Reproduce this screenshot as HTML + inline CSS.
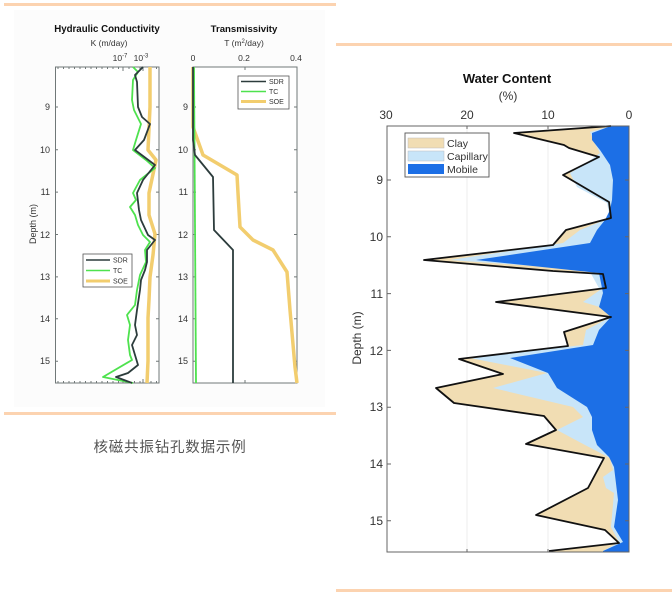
<!DOCTYPE html>
<html><head><meta charset="utf-8"><style>
html,body{margin:0;padding:0;background:#fff;}
svg{display:block;}
text{font-family:"Liberation Sans","Noto Sans CJK SC",sans-serif;}
</style></head><body>
<svg width="672" height="597" viewBox="0 0 672 597" xmlns="http://www.w3.org/2000/svg">
<rect x="0" y="0" width="672" height="597" fill="#fff"/>
<!-- peach separator lines -->
<rect x="4" y="3" width="332" height="3" fill="#fcd3b0"/>
<rect x="4" y="412" width="332" height="3" fill="#fcd3b0"/>
<rect x="336" y="43" width="336" height="3" fill="#fcd3b0"/>
<rect x="336" y="589" width="336" height="3" fill="#fcd3b0"/>
<rect x="14" y="10" width="311" height="397" fill="#fcfcfc"/>

<!-- ===== Chart 1: Hydraulic Conductivity ===== -->
<text x="107" y="32" font-size="9.7" font-weight="bold" text-anchor="middle" fill="#111">Hydraulic Conductivity</text>
<text x="109" y="46" font-size="8.5" text-anchor="middle" fill="#333">K (m/day)</text>
<text x="120" y="61" font-size="8.5" text-anchor="middle" fill="#333">10<tspan dy="-3.5" font-size="6">-7</tspan></text>
<text x="141" y="61" font-size="8.5" text-anchor="middle" fill="#333">10<tspan dy="-3.5" font-size="6">-3</tspan></text>
<rect x="55.5" y="67" width="103.5" height="316" fill="#fff" stroke="#707878" stroke-width="1"/>
<g stroke="#707878" stroke-width="1">
<path d="M58 67v2M63.5 67v2M69 67v2M74.5 67v2M80 67v2M85.5 67v2M91 67v2M96.5 67v2M102 67v2M107.5 67v2M113 67v2M118.5 67v2M123 67v4M129 67v2M134.5 67v2M140 67v2M143 67v4M151 67v2M156.5 67v2"/>
<path d="M58 383v-2M63.5 383v-2M69 383v-2M74.5 383v-2M80 383v-2M85.5 383v-2M91 383v-2M96.5 383v-2M102 383v-2M107.5 383v-2M113 383v-2M118.5 383v-2M123 383v-4M129 383v-2M134.5 383v-2M140 383v-2M143 383v-4M151 383v-2M156.5 383v-2"/>
<path d="M55 107h3M55 149.7h3M55 192.1h3M55 234.5h3M55 276.9h3M55 318.8h3M55 361.2h3"/>
<path d="M159 107h-3M159 149.7h-3M159 192.1h-3M159 234.5h-3M159 276.9h-3M159 318.8h-3M159 361.2h-3"/>
</g>
<g font-size="9" fill="#333" text-anchor="end">
<text x="50" y="110">9</text><text x="50" y="153">10</text><text x="50" y="195">11</text><text x="50" y="238">12</text><text x="50" y="280">13</text><text x="50" y="322">14</text><text x="50" y="364">15</text>
</g>
<text transform="translate(36,224) rotate(-90)" font-size="9" text-anchor="middle" fill="#333">Depth (m)</text>
<polyline fill="none" stroke="#f2cd6e" stroke-width="3.5" stroke-linejoin="round" points="150,67 150,107 148,150 156,160 149,193 149,215 155,234 153,255 150,277 149,300 148,318 148,361 147,383"/>
<polyline fill="none" stroke="#4ee24e" stroke-width="1.8" stroke-linejoin="round" points="133,67 138,72 133,80 132,100 134,110 141,124 136,140 133,150 146,160 155,168 140,180 133,193 136,200 130,207 135,215 138,225 143,235 150,242 145,250 146,262 140,275 137,290 135,305 127,315 130,325 128,340 130,355 132,360 103,377 133,383"/>
<polyline fill="none" stroke="#2c3c3c" stroke-width="1.8" stroke-linejoin="round" points="143,67 135,75 137,82 138,107 142,117 150,124 144,140 135,150 155,165 143,180 137,193 139,210 141,220 148,235 155,240 147,250 147,262 145,270 141,280 140,290 137,310 135,325 137,335 132,345 138,365 128,373 116,377 132,383"/>
<!-- legend 1 -->
<rect x="83" y="254" width="49" height="33" fill="#fff" stroke="#555" stroke-width="0.8"/>
<line x1="86" y1="260" x2="110" y2="260" stroke="#2c3c3c" stroke-width="1.6"/>
<line x1="86" y1="270.5" x2="110" y2="270.5" stroke="#4ee24e" stroke-width="1.6"/>
<line x1="86" y1="281" x2="110" y2="281" stroke="#f2cd6e" stroke-width="3"/>
<g font-size="7" fill="#333"><text x="113" y="262.5">SDR</text><text x="113" y="273">TC</text><text x="113" y="283.5">SOE</text></g>

<!-- ===== Chart 2: Transmissivity ===== -->
<text x="244" y="32" font-size="9.6" font-weight="bold" text-anchor="middle" fill="#111">Transmissivity</text>
<text x="244" y="46" font-size="8.5" text-anchor="middle" fill="#333">T (m<tspan dy="-3" font-size="6">2</tspan><tspan dy="3">/day)</tspan></text>
<g font-size="8.5" fill="#333" text-anchor="middle">
<text x="193" y="61">0</text><text x="244" y="61">0.2</text><text x="296" y="61">0.4</text>
</g>
<rect x="193" y="67" width="104" height="316" fill="#fff" stroke="#707878" stroke-width="1"/>
<g stroke="#707878" stroke-width="1">
<path d="M245 67v3M245 383v-3"/>
<path d="M193 107h3M193 149.7h3M193 192.1h3M193 234.5h3M193 276.9h3M193 318.8h3M193 361.2h3"/>
<path d="M297 107h-3M297 149.7h-3M297 192.1h-3M297 234.5h-3M297 276.9h-3M297 318.8h-3M297 361.2h-3"/>
</g>
<g font-size="9" fill="#333" text-anchor="end">
<text x="188" y="110">9</text><text x="188" y="153">10</text><text x="188" y="195">11</text><text x="188" y="238">12</text><text x="188" y="280">13</text><text x="188" y="322">14</text><text x="188" y="364">15</text>
</g>
<polyline fill="none" stroke="#f2cd6e" stroke-width="3.5" stroke-linejoin="round" points="193,67 193,127 203,155 237,175 238,193 240,227 253,240 273,250 287,272 290,310 295,367 297,383"/>
<polyline fill="none" stroke="#4ee24e" stroke-width="1.8" points="194,67 196,383"/>
<polyline fill="none" stroke="#2c3c3c" stroke-width="1.8" stroke-linejoin="round" points="193,67 193,140 195,155 213,177 214,230 233,250 233,383"/>
<!-- legend 2 -->
<rect x="238" y="76" width="51" height="33" fill="#fff" stroke="#555" stroke-width="0.8"/>
<line x1="241" y1="81.5" x2="266" y2="81.5" stroke="#2c3c3c" stroke-width="1.6"/>
<line x1="241" y1="91.5" x2="266" y2="91.5" stroke="#4ee24e" stroke-width="1.6"/>
<line x1="241" y1="101.5" x2="266" y2="101.5" stroke="#f2cd6e" stroke-width="3"/>
<g font-size="7" fill="#333"><text x="269" y="84">SDR</text><text x="269" y="94">TC</text><text x="269" y="104">SOE</text></g>

<!-- caption -->
<text x="170" y="452" font-size="14.5" letter-spacing="0.8" text-anchor="middle" fill="#555">核磁共振钻孔数据示例</text>

<!-- ===== Chart 3: Water Content ===== -->
<text x="507" y="83" font-size="13" font-weight="bold" text-anchor="middle" fill="#111">Water Content</text>
<text x="508" y="100" font-size="12" text-anchor="middle" fill="#333">(%)</text>
<g font-size="12" fill="#333" text-anchor="middle">
<text x="386" y="119">30</text><text x="467" y="119">20</text><text x="548" y="119">10</text><text x="629" y="119">0</text>
</g>
<rect x="387" y="126" width="242" height="426" fill="#fff"/>
<g stroke="#ececec" stroke-width="1">
<path d="M467 126v426M548 126v426"/>
</g>
<!-- clay (total) -->
<polygon fill="#f1ddb3" points="611,126 514,133 564,145 569,148 599,157 563,175 609,202 611,218 566,230 553,245 424,260 553,271 603,274 606,288 496,302 611,317 564,332 568,346 459,359 503,374 436,388 454,403 544,416 556,430 526,444 604,458 588,488 536,515 605,530 619,543 549,551 549,552 629,552 629,126"/>
<!-- capillary -->
<polygon fill="#c8e5f9" points="611,126 590,132 595,144 600,153 585,164 570,173 577,187 607,203 610,218 580,230 563,243 450,260 589,270 600,290 583,302 603,308 611,317 586,330 583,345 470,358 547,373 493,388 573,407 583,417 557,430 585,445 610,458 613,470 603,477 606,488 614,493 611,527 619,542 603,551 603,552 629,552 629,126"/>
<!-- mobile -->
<polygon fill="#1c6fe6" points="611,126 592,133 592,140 600,150 610,165 613,180 612,200 610,210 605,220 597,230 590,243 476,260 599,273 603,293 599,307 611,317 599,330 593,345 510,358 548,373 557,388 587,407 592,417 592,430 597,445 609,457 614,467 618,500 614,527 623,542 603,551 603,552 629,552 629,126"/>
<!-- total line -->
<polyline fill="none" stroke="#111" stroke-width="1.8" stroke-linejoin="round" points="611,126 514,133 564,145 569,148 599,157 563,175 609,202 611,218 566,230 553,245 424,260 553,271 603,274 606,288 496,302 611,317 564,332 568,346 459,359 503,374 436,388 454,403 544,416 556,430 526,444 604,458 588,488 536,515 605,530 619,543 549,551"/>
<rect x="387" y="126" width="242" height="426" fill="none" stroke="#666" stroke-width="1"/>
<g stroke="#666" stroke-width="1">
<path d="M467 126v3M548 126v3M467 552v-3M548 552v-3"/>
<path d="M387 180h4M387 236.8h4M387 293.6h4M387 350.4h4M387 407.2h4M387 464h4M387 520.8h4"/>
<path d="M629 180h-4M629 236.8h-4M629 293.6h-4M629 350.4h-4M629 407.2h-4M629 464h-4M629 520.8h-4"/>
</g>
<g font-size="12" fill="#333" text-anchor="end">
<text x="383" y="184">9</text><text x="383" y="241">10</text><text x="383" y="298">11</text><text x="383" y="355">12</text><text x="383" y="411">13</text><text x="383" y="468">14</text><text x="383" y="525">15</text>
</g>
<text transform="translate(361,338) rotate(-90)" font-size="12" text-anchor="middle" fill="#333">Depth (m)</text>
<!-- legend 3 -->
<rect x="405" y="133" width="84" height="44" fill="#fff" stroke="#555" stroke-width="0.9"/>
<rect x="408" y="138" width="36" height="10" fill="#f1ddb3" stroke="#bbb" stroke-width="0.5"/>
<rect x="408" y="151" width="36" height="10" fill="#c8e5f9" stroke="#bbb" stroke-width="0.5"/>
<rect x="408" y="164" width="36" height="10" fill="#1c6fe6"/>
<g font-size="10.5" fill="#333"><text x="447" y="147">Clay</text><text x="447" y="160">Capillary</text><text x="447" y="173">Mobile</text></g>
</svg>
</body></html>
